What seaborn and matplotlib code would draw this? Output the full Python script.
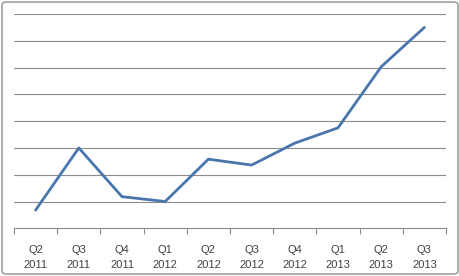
import matplotlib
matplotlib.use("Agg")
import matplotlib.pyplot as plt
from matplotlib.patches import FancyBboxPatch
import seaborn as sns
import pandas as pd
import numpy as np

quarters = ["Q2\n2011", "Q3\n2011", "Q4\n2011", "Q1\n2012", "Q2\n2012",
            "Q3\n2012", "Q4\n2012", "Q1\n2013", "Q2\n2013", "Q3\n2013"]
values = [0.68, 3.0, 1.18, 1.0, 2.58, 2.36, 3.18, 3.75, 6.03, 7.5]

sns.set_theme(style="white")
plt.rcParams['font.family'] = ['Liberation Sans', 'DejaVu Sans']

df = pd.DataFrame({"pos": np.arange(len(quarters)), "value": values})

fig = plt.figure(figsize=(4.6, 2.76), dpi=100)
ax = fig.add_axes([14/460, 1 - 228.3/276, (446 - 14)/460, (228.3 - 14)/276])

sns.lineplot(data=df, x="pos", y="value", ax=ax, color="#4A76AE",
             linewidth=2.0, legend=False)

ax.set_xlim(-0.5, len(quarters) - 0.5)
ax.set_ylim(0, 8)
ax.set_yticks(np.arange(1, 9))
ax.yaxis.grid(True, color="#8C8C8C", linewidth=0.8)
ax.tick_params(axis="y", left=False, labelleft=False)
ax.set_xticks(df["pos"])
ax.set_xticklabels(quarters, fontsize=8, color="#404040", linespacing=1.6)
ax.tick_params(axis="x", which="major", length=0, pad=12)
ax.set_xticks(np.arange(-0.5, len(quarters)), minor=True)
ax.tick_params(axis="x", which="minor", length=4, width=0.8, color="#8C8C8C",
               direction="out", bottom=True)
ax.set_xlabel("")
ax.set_ylabel("")
for s in ["top", "right", "left"]:
    ax.spines[s].set_visible(False)
ax.spines["bottom"].set_color("#8C8C8C")
ax.spines["bottom"].set_linewidth(0.8)
ax.set_axisbelow(True)

border = FancyBboxPatch((2/460, 2/276), 456/460, 272/276,
                        boxstyle="round,pad=0,rounding_size=0.01",
                        transform=fig.transFigure, fill=False,
                        edgecolor="#8E8E8E", linewidth=1.0)
fig.patches.append(border)

fig.savefig("out.png", dpi=100)
